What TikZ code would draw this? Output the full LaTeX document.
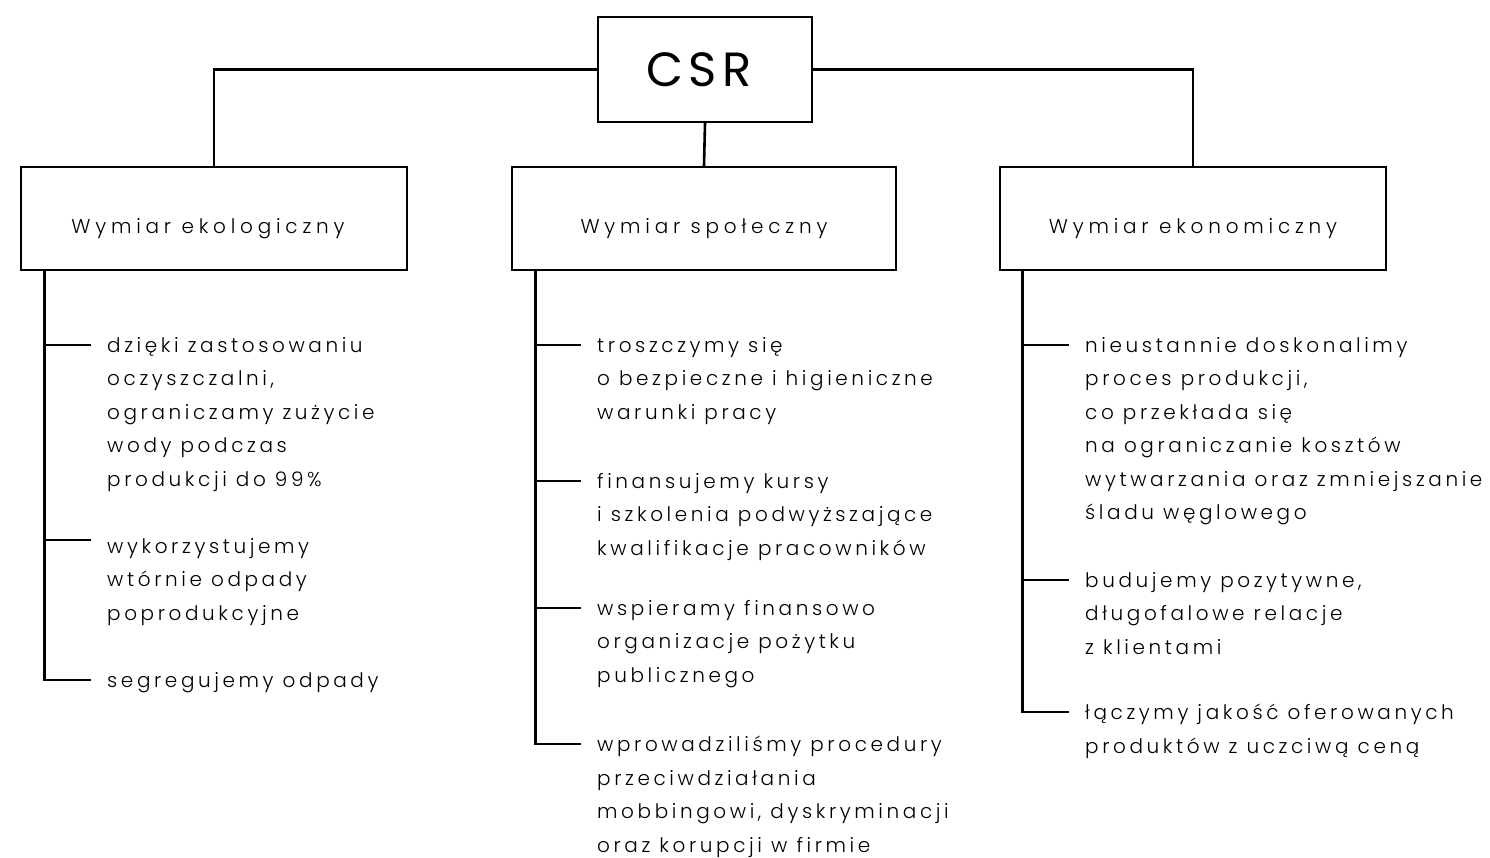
\documentclass[tikz,border=0pt]{standalone}
\usepackage{fontspec}
\setmainfont{Poppins Light}[LetterSpace=18]
\newfontfamily\boxfont{Poppins Light}[LetterSpace=24]
\newfontfamily\csrfont{Poppins}[LetterSpace=11]
\usetikzlibrary{calc}
\begin{document}
\begin{tikzpicture}[x=1pt,y=-1pt,
  link/.style={line width=2.6pt, line cap=rect},
  topbox/.style={draw, line width=2.6pt, inner sep=0pt, minimum width=214pt, minimum height=105pt, font=\csrfont\fontsize{48}{52}\selectfont},
  dimbox/.style={draw, line width=2.6pt, inner sep=0pt, minimum width=386pt, minimum height=103pt, text height=29pt, text depth=0pt, font=\boxfont\fontsize{20}{26}\selectfont},
  item/.style={align=left, inner sep=0pt, anchor=north west, font=\fontsize{20}{33.5}\selectfont}]
\fill[white] (0,0) rectangle (1490,857);
\useasboundingbox (0,0) rectangle (1490,857);

\node[topbox] (csr) at (705,69.5) {CSR\kern12pt};
\node[dimbox] (eco) at (214,218.5) {Wymiar ekologiczny\kern12pt};
\node[dimbox, minimum width=384pt] (soc) at (704,218.5) {Wymiar społeczny};
\node[dimbox] (eko) at (1193,218.5) {Wymiar ekonomiczny};

\draw[link] (csr.west) -| (eco.north);
\draw[link] (csr.south) -- (soc.north);
\draw[link] (csr.east) -| (eko.north);

% ecological items
\node[item] (e1) at (107,337) {dzięki zastosowaniu\\oczyszczalni,\\ograniczamy zużycie\\wody podczas\\produkcji do 99\%};
\node[item] (e2) at (107,538) {wykorzystujemy\\wtórnie odpady\\poprodukcyjne};
\node[item] (e3) at (107,672) {segregujemy odpady};

% social items
\node[item] (s1) at (597,337) {troszczymy się\\o bezpieczne i higieniczne\\warunki pracy};
\node[item] (s2) at (597,473) {finansujemy kursy\\i szkolenia podwyższające\\kwalifikacje pracowników};
\node[item] (s3) at (597,600) {wspieramy finansowo\\organizacje pożytku\\publicznego};
\node[item] (s4) at (597,736) {wprowadziliśmy procedury\\przeciwdziałania\\mobbingowi, dyskryminacji\\oraz korupcji w firmie};

% economic items
\node[item] (k1) at (1085,337) {nieustannie doskonalimy\\proces produkcji,\\co przekłada się\\na ograniczanie kosztów\\wytwarzania oraz zmniejszanie\\śladu węglowego};
\node[item] (k2) at (1085,572) {budujemy pozytywne,\\długofalowe relacje\\z klientami};
\node[item] (k3) at (1085,704) {łączymy jakość oferowanych\\produktów z uczciwą ceną};

% tick ends
\foreach \n in {e1,e3,s1,s2,s3,s4,k1,k2,k3}
  \coordinate (\n t) at ($(\n.north west)+(-17,8)$);
\coordinate (e2t) at ($(e2.north west)+(-17,2)$);

\coordinate (es) at ($(eco.south west)+(25,0)$);
\coordinate (ss) at ($(soc.south west)+(25,0)$);
\coordinate (ks) at ($(eko.south west)+(24,0)$);

\draw[link] (es) |- (e3t);
\draw[link] (ss) |- (s4t);
\draw[link] (ks) |- (k3t);
\foreach \n in {e1,e2} \draw[link] (es |- \n t) -- (\n t);
\foreach \n in {s1,s2,s3} \draw[link] (ss |- \n t) -- (\n t);
\foreach \n in {k1,k2} \draw[link] (ks |- \n t) -- (\n t);
\end{tikzpicture}
\end{document}
